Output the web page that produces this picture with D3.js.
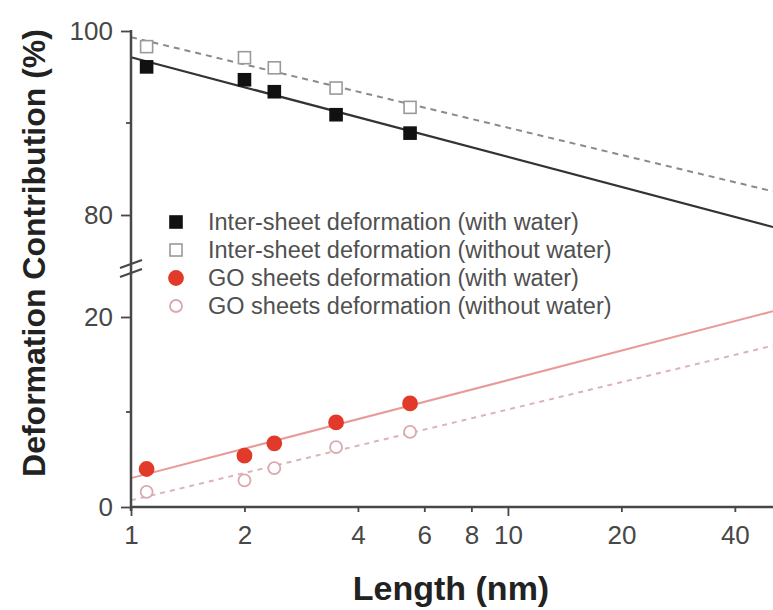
<!DOCTYPE html>
<html>
<head>
<meta charset="utf-8">
<script src="https://cdn.jsdelivr.net/npm/d3@7"></script>
<style>
  html, body { margin: 0; padding: 0; background: #fff; }
  svg { display: block; font-family: "Liberation Sans", Arial, Helvetica, sans-serif; }
</style>
</head>
<body>
<svg id="chart" width="773" height="610"></svg>
<script>
// Sample lengths (nm) and deformation contributions (%)
const lengths = [1.1, 2.0, 2.4, 3.5, 5.5];
const interWithWater = [96.1, 94.7, 93.4, 90.9, 88.9];
const interWithoutWater = [98.3, 97.1, 96.0, 93.8, 91.7];
const goWithWater = [4.0, 5.4, 6.7, 8.9, 10.9];
const goWithoutWater = [1.6, 2.8, 4.1, 6.3, 7.9];

const xTickValues = [1, 2, 4, 6, 8, 10, 20, 40];
const upperTicks = [80, 100];
const upperMinor = [90];
const lowerTicks = [0, 20];
const lowerMinor = [10];

const legendLabels = [
  "Inter-sheet deformation (with water)",
  "Inter-sheet deformation (without water)",
  "GO sheets deformation (with water)",
  "GO sheets deformation (without water)"
];

const svg = d3.select("#chart");

const x = d3.scaleLog().domain([1, 50.5]).range([131, 773]);
// broken y-axis: upper band 80-100, lower band 0-20
const yUp = d3.scaleLinear().domain([80, 100]).range([215, 31]);
const yLo = d3.scaleLinear().domain([0, 20]).range([507, 317]);

const axisColor = "#474747";
const labelColor = "#474747";

// least-squares fit of value against log10(length)
function logFit(xs, ys) {
  const lx = xs.map(v => Math.log10(v));
  const mx = d3.mean(lx), my = d3.mean(ys);
  let sxy = 0, sxx = 0;
  lx.forEach((v, i) => { sxy += (v - mx) * (ys[i] - my); sxx += (v - mx) * (v - mx); });
  const b = sxy / sxx, a = my - b * mx;
  return v => a + b * Math.log10(v);
}

const series = [
  { vals: interWithWater, y: yUp, kind: "square", fill: "#111", stroke: "#111",
    line: "#333", dash: null, lw: 2.2 },
  { vals: interWithoutWater, y: yUp, kind: "square", fill: "#fff", stroke: "#9a9a9a",
    line: "#8a8a8a", dash: "6,5", lw: 2 },
  { vals: goWithWater, y: yLo, kind: "circle", fill: "#e23a2a", stroke: "#e23a2a",
    line: "#e99a9a", dash: null, lw: 2 },
  { vals: goWithoutWater, y: yLo, kind: "circle", fill: "#fff", stroke: "#dba8ae",
    line: "#dcb4b8", dash: "5,5", lw: 2 }
];

// fit lines
const lineXs = [1, 50.5];
series.forEach(s => {
  const f = logFit(lengths, s.vals);
  svg.append("path")
    .datum(lineXs)
    .attr("d", d3.line().x(d => x(d)).y(d => s.y(f(d))))
    .attr("fill", "none")
    .attr("stroke", s.line)
    .attr("stroke-width", s.lw)
    .attr("stroke-dasharray", s.dash);
});

// markers
function drawMarker(g, s, cx, cy) {
  if (s.kind === "square") {
    g.append("rect")
      .attr("x", cx - 6).attr("y", cy - 6).attr("width", 12).attr("height", 12)
      .attr("fill", s.fill).attr("stroke", s.stroke).attr("stroke-width", 1.6);
  } else {
    g.append("circle")
      .attr("cx", cx).attr("cy", cy).attr("r", s.fill === "#fff" ? 6 : 7)
      .attr("fill", s.fill).attr("stroke", s.stroke).attr("stroke-width", 1.8);
  }
}
series.forEach(s => {
  const g = svg.append("g");
  lengths.forEach((l, i) => drawMarker(g, s, x(l), s.y(s.vals[i])));
});

// x axis
const xAxisG = svg.append("g").attr("transform", "translate(0,507)");
xAxisG.call(d3.axisBottom(x).tickValues(xTickValues).tickFormat(d3.format("d"))
  .tickSize(5).tickPadding(14));
xAxisG.select(".domain").attr("stroke", axisColor).attr("stroke-width", 2.5)
  .attr("d", "M131,0H773");
xAxisG.selectAll(".tick line").attr("stroke", axisColor).attr("stroke-width", 1.8)
  .attr("y2", d => (d === 1 || d === 10) ? 9 : 5);
xAxisG.selectAll(".tick text").attr("fill", labelColor)
  .style("font-size", "26px").attr("dy", "0.71em");

// y axis line (continuous through the break)
svg.append("line").attr("x1", 131).attr("x2", 131).attr("y1", 30).attr("y2", 511)
  .attr("stroke", axisColor).attr("stroke-width", 2.5);

function yTicks(scale, major, minor) {
  const g = svg.append("g").attr("transform", "translate(131,0)");
  g.call(d3.axisLeft(scale).tickValues(major).tickSize(10).tickPadding(8));
  g.select(".domain").remove();
  g.selectAll(".tick line").attr("stroke", axisColor).attr("stroke-width", 1.8);
  g.selectAll(".tick text").attr("fill", labelColor).style("font-size", "26px");
  g.selectAll(".minor").data(minor).join("line")
    .attr("x1", -5).attr("x2", 0)
    .attr("y1", d => scale(d)).attr("y2", d => scale(d))
    .attr("stroke", axisColor).attr("stroke-width", 1.8);
}
yTicks(yUp, upperTicks, upperMinor);
yTicks(yLo, lowerTicks, lowerMinor);

// axis break marks
[264, 273].forEach(by => {
  svg.append("line")
    .attr("x1", 120).attr("y1", by + 4).attr("x2", 142).attr("y2", by - 4)
    .attr("stroke", axisColor).attr("stroke-width", 2.2);
});

// legend
const legend = svg.append("g");
legendLabels.forEach((lab, i) => {
  const cy = 222 + i * 28;
  drawMarker(legend, series[i], 176, cy);
  legend.append("text")
    .attr("x", 208).attr("y", cy).attr("dy", "0.35em")
    .attr("fill", "#505050").style("font-size", "23.5px")
    .text(lab);
});

// axis titles
svg.append("text")
  .attr("x", 451).attr("y", 600)
  .attr("text-anchor", "middle")
  .attr("fill", "#222").style("font-size", "34px").style("font-weight", "bold")
  .text("Length (nm)");

svg.append("text")
  .attr("transform", "translate(45,253) rotate(-90)")
  .attr("text-anchor", "middle")
  .attr("fill", "#222").style("font-size", "32px").style("font-weight", "bold")
  .text("Deformation Contribution (%)");
</script>
</body>
</html>
